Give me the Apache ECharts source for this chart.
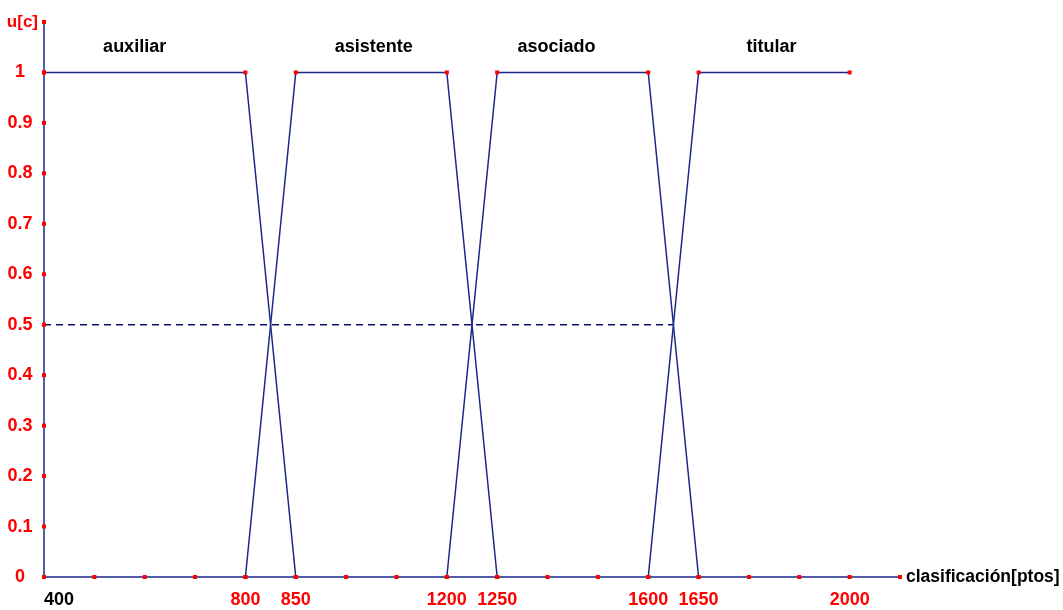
<!DOCTYPE html>
<html>
<head>
<meta charset="utf-8">
<script src="https://cdn.jsdelivr.net/npm/echarts@6/dist/echarts.min.js"></script>
<style>
html,body{margin:0;padding:0;background:#fff;}
#c{width:1063px;height:610px;}
</style>
</head>
<body>
<div id="c"></div>
<script>
// Tick labels along the x axis (one per grid step)
var xTickLabels = ['400','','','','800','850','','','1200','1250','','','1600','1650','','','2000',''];
// Y ticks
var yTicks = [0,0.1,0.2,0.3,0.4,0.5,0.6,0.7,0.8,0.9,1,1.1];
// Membership functions (x in tick-step positions, y membership)
var auxiliar  = [[0,1],[4,1],[5,0]];
var asistente = [[4,0],[5,1],[8,1],[9,0]];
var asociado  = [[8,0],[9,1],[12,1],[13,0]];
var titular   = [[12,0],[13,1],[16,1]];
var halfLine  = [[0,0.5],[12.5,0.5]];
// Class names and their label anchor (x position, y level)
var classNames = ['auxiliar','asistente','asociado','titular'];
var classX = [1.8, 6.55, 10.18, 14.45];
var classY = 1.05;

var NAVY = '#1c2788';
var RED = '#ff0000';
var FONT = '"Liberation Sans", Arial, sans-serif';

var chart = echarts.init(document.getElementById('c'), null, {renderer:'canvas'});

function memSeries(name, data){
  return {
    name: name, type: 'line', data: data,
    showSymbol: true, symbol: 'rect', symbolSize: 4,
    itemStyle: {color: RED},
    lineStyle: {color: NAVY, width: 1.5},
    animation: false, z: 3
  };
}

var axisDots = xTickLabels.map(function(_, i){ return [i, 0]; })
  .concat(yTicks.map(function(v){ return [0, v]; }));

chart.setOption({
  animation: false,
  grid: {left: 44, right: 163, top: 22, bottom: 33, containLabel: false},
  xAxis: {
    type: 'value', min: 0, max: xTickLabels.length - 1, interval: 1,
    name: 'clasificación[ptos]', nameLocation: 'end', nameGap: 6,
    nameTextStyle: {color: '#000', fontWeight: 'bold', fontSize: 17.5, fontFamily: FONT, align: 'left', verticalAlign: 'middle'},
    axisLine: {show: true, onZero: false, lineStyle: {color: NAVY, width: 1.5}},
    axisTick: {show: false},
    splitLine: {show: false},
    axisLabel: {
      margin: 14, fontWeight: 'bold', fontSize: 18, fontFamily: FONT, color: RED,
      showMinLabel: true, showMaxLabel: true, alignMinLabel: 'left',
      formatter: function(v){
        var t = xTickLabels[Math.round(v)] || '';
        if (!t) return '';
        return Math.round(v) === 0 ? '{b|' + t + '}' : '{r|' + t + '}';
      },
      rich: {
        b: {color: '#000', fontWeight: 'bold', fontSize: 18, fontFamily: FONT},
        r: {color: RED, fontWeight: 'bold', fontSize: 18, fontFamily: FONT}
      }
    }
  },
  yAxis: {
    type: 'value', min: 0, max: 1.1, interval: 0.1,
    name: 'u[c]', nameLocation: 'end', nameGap: 0,
    nameTextStyle: {color: RED, fontWeight: 'bold', fontSize: 17, fontFamily: FONT, align: 'right', verticalAlign: 'middle', padding: [0, 6, 6, 0]},
    axisLine: {show: true, onZero: false, lineStyle: {color: NAVY, width: 1.5}},
    axisTick: {show: false},
    splitLine: {show: false},
    axisLabel: {
      margin: 24, align: 'center', color: RED, fontWeight: 'bold', fontSize: 18, fontFamily: FONT,
      formatter: function(v){ return v > 1.05 ? '' : String(+v.toFixed(1)); }
    }
  },
  series: [
    memSeries('auxiliar', auxiliar),
    memSeries('asistente', asistente),
    memSeries('asociado', asociado),
    memSeries('titular', titular),
    {
      type: 'line', data: halfLine, showSymbol: false, symbol: 'none',
      lineStyle: {color: '#0a1470', width: 1.3, type: [7, 5]}, z: 2
    },
    {
      type: 'scatter', data: axisDots, symbol: 'rect', symbolSize: 4,
      itemStyle: {color: RED, opacity: 1}, z: 4, silent: true
    },
    {
      type: 'line', showSymbol: true, symbol: 'circle', symbolSize: 1,
      lineStyle: {width: 0, opacity: 0},
      itemStyle: {color: 'rgba(0,0,0,0)', opacity: 1},
      data: classNames.map(function(n, i){ return {value: [classX[i], classY], name: n}; }),
      label: {show: true, position: 'inside', formatter: function(p){ return classNames[p.dataIndex]; },
        color: '#000', opacity: 1, textBorderWidth: 0, fontWeight: 'bold', fontSize: 18, fontFamily: FONT},
      silent: true, z: 5
    }
  ]
});
</script>
</body>
</html>
